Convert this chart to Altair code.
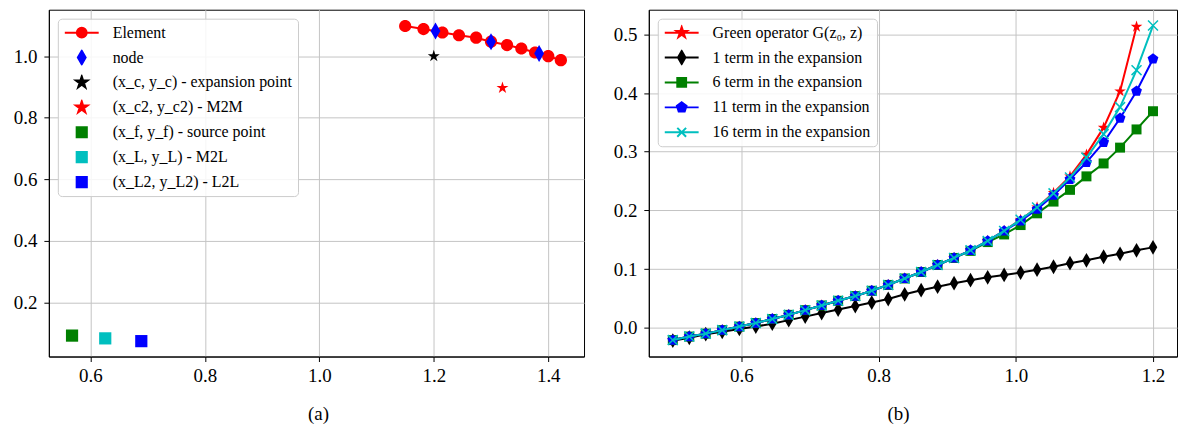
import math
import altair as alt
import pandas as pd

# ---------------- panel (a) data ----------------
elem_x = [1.150, 1.182, 1.215, 1.244, 1.274, 1.300, 1.328, 1.353, 1.377, 1.400, 1.422]
elem_y = [1.098, 1.088, 1.077, 1.068, 1.060, 1.047, 1.036, 1.025, 1.012, 1.000, 0.987]
node_x = [1.203, 1.300, 1.384]
node_y = [1.082, 1.047, 1.009]
xc, yc = [1.200], [1.000]
xc2, yc2 = [1.320], [0.897]
xf, yf = [0.568], [0.092]
xL, yL = [0.626], [0.083]
xL2, yL2 = [0.689], [0.074]

labels_a = ["Element", "node", "(x_c, y_c) - expansion point", "(x_c2, y_c2) - M2M",
            "(x_f, y_f) - source point", "(x_L, y_L) - M2L", "(x_L2, y_L2) - L2L"]
xticks_a = [0.6, 0.8, 1.0, 1.2, 1.4]
yticks_a = [0.2, 0.4, 0.6, 0.8, 1.0]

# ---------------- panel (b) data ----------------
zx = [0.500, 0.524, 0.548, 0.572, 0.597, 0.621, 0.645, 0.669, 0.693, 0.717,
      0.741, 0.766, 0.790, 0.814, 0.838, 0.862, 0.886, 0.910, 0.934, 0.959,
      0.983, 1.007, 1.031, 1.055, 1.079, 1.103, 1.128, 1.152, 1.176, 1.200]
green_op = [-0.021, -0.015, -0.010, -0.004, 0.002, 0.008, 0.015, 0.022, 0.030, 0.038,
            0.046, 0.054, 0.063, 0.073, 0.084, 0.095, 0.107, 0.119, 0.132, 0.148,
            0.165, 0.184, 0.205, 0.230, 0.258, 0.295, 0.341, 0.403, 0.513]
term1 = [-0.022, -0.017, -0.011, -0.007, -0.002, 0.002, 0.007, 0.013, 0.019, 0.025,
         0.031, 0.037, 0.043, 0.049, 0.057, 0.064, 0.070, 0.076, 0.081, 0.086,
         0.090, 0.094, 0.099, 0.104, 0.110, 0.115, 0.121, 0.126, 0.132, 0.137]
term6 = [-0.021, -0.015, -0.010, -0.004, 0.002, 0.008, 0.015, 0.022, 0.030, 0.038,
         0.046, 0.054, 0.063, 0.073, 0.084, 0.095, 0.107, 0.119, 0.131, 0.146,
         0.159, 0.175, 0.195, 0.215, 0.235, 0.258, 0.280, 0.307, 0.338, 0.369]
term11 = [-0.021, -0.015, -0.010, -0.004, 0.002, 0.008, 0.015, 0.022, 0.030, 0.038,
          0.046, 0.054, 0.063, 0.073, 0.084, 0.095, 0.107, 0.119, 0.132, 0.148,
          0.165, 0.182, 0.202, 0.226, 0.253, 0.282, 0.316, 0.357, 0.403, 0.458]
term16 = [-0.021, -0.015, -0.010, -0.004, 0.002, 0.008, 0.015, 0.022, 0.030, 0.038,
          0.046, 0.054, 0.063, 0.073, 0.084, 0.095, 0.107, 0.119, 0.132, 0.148,
          0.165, 0.184, 0.205, 0.229, 0.256, 0.290, 0.330, 0.376, 0.439, 0.515]

labels_b = ["Green operator G(z\u2080, z)", "1 term in the expansion", "6 term in the expansion",
            "11 term in the expansion", "16 term in the expansion"]
xticks_b = [0.6, 0.8, 1.0, 1.2]
yticks_b = [0.0, 0.1, 0.2, 0.3, 0.4, 0.5]

# ---------------- styles ----------------
FONT = "Liberation Serif"
RED, BLUE, BLACK, GREEN, CYAN = "#ff0000", "#0000ff", "#000000", "#008000", "#00bfbf"


def fmt(pts):
    return "L".join(f"{x:.3f},{y:.3f}" for x, y in pts)


def circle(r):
    return f"M{r:.3f},0A{r:.3f},{r:.3f} 0 1 1 {-r:.3f},0A{r:.3f},{r:.3f} 0 1 1 {r:.3f},0Z"


def square(h):
    return "M" + fmt([(-h, -h), (h, -h), (h, h), (-h, h)]) + "Z"


def thin_diamond(h, w):
    return "M" + fmt([(0, -h), (w, 0), (0, h), (-w, 0)]) + "Z"


def star(r):
    pts = []
    for k in range(10):
        a = -math.pi / 2 + k * math.pi / 5
        rr = r if k % 2 == 0 else r * 0.382
        pts.append((rr * math.cos(a), rr * math.sin(a)))
    return "M" + fmt(pts) + "Z"


def pentagon(r):
    pts = [(r * math.cos(-math.pi / 2 + k * 2 * math.pi / 5),
            r * math.sin(-math.pi / 2 + k * 2 * math.pi / 5)) for k in range(5)]
    return "M" + fmt(pts) + "Z"


def xcross(h):
    return f"M{-h},{-h}L{h},{h}M{h},{-h}L{-h},{h}"


LINE = "M-1,0L1,0"

dom_a_x = [0.5275, 1.4625]
dom_a_y = [0.024, 1.151]
dom_b_x = [0.465, 1.235]
dom_b_y = [-0.049, 0.542]


def enc_xy(dx, dy, xaxis, yaxis):
    return dict(
        x=alt.X("x:Q", scale=alt.Scale(domain=dx, nice=False, zero=False), axis=xaxis),
        y=alt.Y("y:Q", scale=alt.Scale(domain=dy, nice=False, zero=False), axis=yaxis),
    )


def make_axes(xticks, yticks, title, title_x):
    xa = alt.Axis(values=xticks, format=".1f", title=title, titleX=title_x, titleY=57,
                  titleBaseline="middle", grid=True)
    ya = alt.Axis(values=yticks, format=".1f", title=None, grid=True,
                  minExtent=40, maxExtent=40)
    return xa, ya


def legend_spec():
    return alt.Legend(title=None, orient="top-left", offset=9, padding=6,
                      strokeColor="#cccccc", fillColor="rgba(255,255,255,0.85)",
                      cornerRadius=4, labelFont=FONT, labelFontSize=16, labelColor="black",
                      labelOffset=13, symbolSize=1156, symbolStrokeWidth=2,
                      symbolOpacity=1, clipHeight=16, rowPadding=9, labelLimit=400)


def point_layer(xs, ys, enc, shape, size, color, filled=True, sw=1.0):
    df = pd.DataFrame({"x": xs, "y": ys})
    if filled:
        m = alt.Chart(df).mark_point(shape=shape, size=size, filled=True, fill=color,
                                     stroke=color, strokeWidth=sw, opacity=1)
    else:
        m = alt.Chart(df).mark_point(shape=shape, size=size, filled=False, stroke=color,
                                     strokeWidth=sw, opacity=1)
    return m.encode(**enc)


def line_layer(xs, ys, enc, color):
    df = pd.DataFrame({"x": xs, "y": ys})
    return alt.Chart(df).mark_line(color=color, strokeWidth=2).encode(**enc)


def legend_layer(field, labels, colors, shapes, enc):
    df = pd.DataFrame({field: labels, "x": [-10.0] * len(labels), "y": [-10.0] * len(labels)})
    cs = alt.Scale(domain=labels, range=colors)
    ss = alt.Scale(domain=labels, range=shapes)
    return alt.Chart(df).mark_point(filled=True, opacity=1, clip=True, strokeWidth=2).encode(
        fill=alt.Fill(f"{field}:N", scale=cs, legend=legend_spec()),
        stroke=alt.Stroke(f"{field}:N", scale=cs, legend=legend_spec()),
        shape=alt.Shape(f"{field}:N", scale=ss, legend=legend_spec()),
        **enc,
    )


# ---------------- panel (a) ----------------
xa, ya = make_axes(xticks_a, yticks_a, "(a)", 270)
ea = enc_xy(dom_a_x, dom_a_y, xa, ya)

layers_a = [
    line_layer(elem_x, elem_y, ea, RED),
    point_layer(elem_x, elem_y, ea, circle(1), 150, RED, sw=0),
    point_layer(node_x, node_y, ea, thin_diamond(1, 0.58), 290, BLUE, sw=0),
    point_layer(xc, yc, ea, star(1), 160, BLACK, sw=0),
    point_layer(xc2, yc2, ea, star(1), 160, RED, sw=0),
    point_layer(xf, yf, ea, square(1), 150, GREEN, sw=0),
    point_layer(xL, yL, ea, square(1), 150, CYAN, sw=0),
    point_layer(xL2, yL2, ea, square(1), 150, BLUE, sw=0),
]
shapes_a = [LINE + circle(0.29), thin_diamond(0.4, 0.23), star(0.36), star(0.36),
            square(0.3), square(0.3), square(0.3)]
colors_a = [RED, BLUE, BLACK, RED, GREEN, CYAN, BLUE]
layers_a.append(legend_layer("label_a", labels_a, colors_a, shapes_a, ea))
panel_a = alt.layer(*layers_a).properties(width=537, height=348)

# ---------------- panel (b) ----------------
xb, yb = make_axes(xticks_b, yticks_b, "(b)", 250)
eb = enc_xy(dom_b_x, dom_b_y, xb, yb)

series_b = [
    (zx[:len(green_op)], green_op, RED, star(1), 150, True),
    (zx, term1, BLACK, thin_diamond(1, 0.58), 220, True),
    (zx, term6, GREEN, square(1), 100, True),
    (zx, term11, BLUE, pentagon(1), 130, True),
    (zx, term16, CYAN, xcross(1), 100, False),
]
layers_b = []
for xs, ys, col, shp, sz, fl in series_b:
    layers_b.append(line_layer(xs, ys, eb, col))
    layers_b.append(point_layer(xs, ys, eb, shp, sz, col, filled=fl, sw=1.5 if not fl else 0))
shapes_b = [LINE + star(0.33), LINE + thin_diamond(0.38, 0.22), LINE + square(0.26),
            LINE + pentagon(0.3), LINE + xcross(0.26)]
colors_b = [RED, BLACK, GREEN, BLUE, CYAN]
layers_b.append(legend_layer("label_b", labels_b, colors_b, shapes_b, eb))
panel_b = alt.layer(*layers_b).properties(width=530, height=348)

chart = (
    alt.hconcat(panel_a, panel_b, spacing=23)
    .resolve_scale(fill="independent", stroke="independent", shape="independent")
    .resolve_legend(fill="independent", stroke="independent", shape="independent")
    .properties(padding={"left": 0, "top": 0, "right": 0, "bottom": 0})
    .configure_view(stroke="black", strokeWidth=1)
    .configure_axis(
        labelFont=FONT, labelFontSize=19, labelColor="black",
        titleFont=FONT, titleFontSize=19, titleFontWeight="normal", titleColor="black",
        tickColor="black", tickSize=5, tickWidth=1, domainColor="black",
        gridColor="#c4c4c4", gridWidth=1, labelPadding=5,
    )
    .configure_axisY(labelPadding=7)
)

chart.save("out.html", embed_options={"renderer": "svg", "actions": False})
